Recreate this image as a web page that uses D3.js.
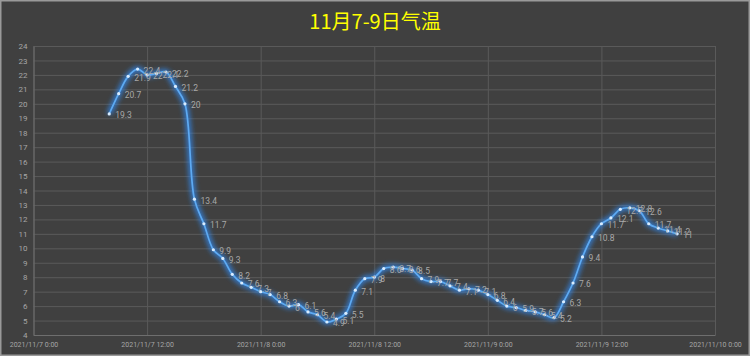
<!DOCTYPE html>
<html>
<head>
<meta charset="utf-8">
<script src="https://cdn.jsdelivr.net/npm/d3@7"></script>
<style>
  html, body { margin: 0; padding: 0; background: #404040; }
  svg { display: block; }
</style>
</head>
<body>
<div id="chart"></div>
<script>
// hourly readings, 11/7 8:00 .. 11/9 20:00
var times = [
    "2021-11-07 08:00", "2021-11-07 09:00", "2021-11-07 10:00", "2021-11-07 11:00",
    "2021-11-07 12:00", "2021-11-07 13:00", "2021-11-07 14:00", "2021-11-07 15:00",
    "2021-11-07 16:00", "2021-11-07 17:00", "2021-11-07 18:00", "2021-11-07 19:00",
    "2021-11-07 20:00", "2021-11-07 21:00", "2021-11-07 22:00", "2021-11-07 23:00",
    "2021-11-08 00:00", "2021-11-08 01:00", "2021-11-08 02:00", "2021-11-08 03:00",
    "2021-11-08 04:00", "2021-11-08 05:00", "2021-11-08 06:00", "2021-11-08 07:00",
    "2021-11-08 08:00", "2021-11-08 09:00", "2021-11-08 10:00", "2021-11-08 11:00",
    "2021-11-08 12:00", "2021-11-08 13:00", "2021-11-08 14:00", "2021-11-08 15:00",
    "2021-11-08 16:00", "2021-11-08 17:00", "2021-11-08 18:00", "2021-11-08 19:00",
    "2021-11-08 20:00", "2021-11-08 21:00", "2021-11-08 22:00", "2021-11-08 23:00",
    "2021-11-09 00:00", "2021-11-09 01:00", "2021-11-09 02:00", "2021-11-09 03:00",
    "2021-11-09 04:00", "2021-11-09 05:00", "2021-11-09 06:00", "2021-11-09 07:00",
    "2021-11-09 08:00", "2021-11-09 09:00", "2021-11-09 10:00", "2021-11-09 11:00",
    "2021-11-09 12:00", "2021-11-09 13:00", "2021-11-09 14:00", "2021-11-09 15:00",
    "2021-11-09 16:00", "2021-11-09 17:00", "2021-11-09 18:00", "2021-11-09 19:00",
    "2021-11-09 20:00"
];

var temps = [
    19.3, 20.7, 21.9, 22.4, 22.0, 22.1, 22.2, 21.2, 20, 13.4, 11.7, 9.9, 9.3, 8.2, 7.6, 7.3,
    7, 6.8, 6.3, 6, 6.1, 5.6, 5.4, 4.9, 5.1, 5.5, 7.1, 7.9, 8, 8.6, 8.7, 8.6, 8.5, 7.9, 7.7, 7.7,
    7.4, 7.1, 7.2, 7.1,
    6.8, 6.4, 6, 5.9, 5.7, 5.6, 5.4, 5.2, 6.3, 7.6, 9.4, 10.8, 11.7, 12.1, 12.7, 12.8, 12.6,
    11.7, 11.4, 11.2, 11
];

var xTicks = [
    "2021-11-07 00:00", "2021-11-07 12:00", "2021-11-08 00:00", "2021-11-08 12:00",
    "2021-11-09 00:00", "2021-11-09 12:00", "2021-11-10 00:00"
];
var yTicks = [4, 5, 6, 7, 8, 9, 10, 11, 12, 13, 14, 15, 16, 17, 18, 19, 20, 21, 22, 23, 24];

var title = "11月7-9日气温";

var W = 750, H = 356;
var margin = { top: 46, right: 35, bottom: 21, left: 33.5 },
    width = W - margin.left - margin.right,
    height = H - margin.top - margin.bottom;

var parse = d3.timeParse("%Y-%m-%d %H:%M");
var data = times.map(function (t, i) { return { t: parse(t), v: temps[i] }; });

var svgRoot = d3.select("#chart")
    .append("svg")
    .attr("width", W)
    .attr("height", H);

svgRoot.append("rect")
    .attr("x", 0.75).attr("y", 0.75)
    .attr("width", W - 1.5).attr("height", H - 1.5)
    .attr("fill", "#404040")
    .attr("stroke", "#9a9a9a")
    .attr("stroke-width", 1.5);

// glow filter for the line
var defs = svgRoot.append("defs");
var glow = defs.append("filter").attr("id", "glow")
    .attr("x", "-5%").attr("y", "-5%").attr("width", "110%").attr("height", "110%");
glow.append("feGaussianBlur").attr("stdDeviation", 2.5);

svgRoot.append("text")
    .attr("x", W / 2)
    .attr("y", 29)
    .attr("text-anchor", "middle")
    .attr("font-family", "'Noto Sans CJK SC', 'Noto Sans', sans-serif")
    .attr("font-size", 20)
    .attr("fill", "#ffff00")
    .text(title);

var svg = svgRoot.append("g")
    .attr("transform", "translate(" + margin.left + "," + margin.top + ")");

var x = d3.scaleTime()
    .domain([parse(xTicks[0]), parse(xTicks[xTicks.length - 1])])
    .range([0, width]);

var y = d3.scaleLinear()
    .domain([4, 24])
    .range([height, 0]);

// gridlines
svg.append("g")
    .attr("class", "ygrid")
    .call(d3.axisLeft(y).tickValues(yTicks).tickSize(-width).tickFormat(""))
    .call(function (g) { g.select(".domain").remove(); })
    .selectAll("line")
    .attr("stroke", "#5a5a5a")
    .attr("stroke-width", 1);

svg.append("g")
    .attr("class", "xgrid")
    .call(d3.axisTop(x).tickValues(xTicks.map(parse)).tickSize(-height).tickFormat(""))
    .call(function (g) { g.select(".domain").remove(); })
    .selectAll("line")
    .attr("stroke", "#5a5a5a")
    .attr("stroke-width", 1);

// Y axis labels
svg.append("g")
    .call(d3.axisLeft(y).tickValues(yTicks).tickSize(0).tickPadding(6))
    .call(function (g) {
        g.select(".domain").attr("stroke", "#6e6e6e");
        g.selectAll("text")
            .attr("fill", "#a6a6a6")
            .attr("font-family", "Roboto, 'Liberation Sans', sans-serif")
            .attr("font-size", 8);
    });

// X axis labels
var fmt = d3.timeFormat("%Y/%-m/%-d %-H:%M");
svg.append("g")
    .attr("transform", "translate(0," + height + ")")
    .call(d3.axisBottom(x).tickValues(xTicks.map(parse)).tickSize(0).tickPadding(7).tickFormat(fmt))
    .call(function (g) {
        g.select(".domain").attr("stroke", "#6e6e6e");
        g.selectAll("text")
            .attr("fill", "#a6a6a6")
            .attr("font-family", "Roboto, 'Liberation Sans', sans-serif")
            .attr("font-size", 7);
    });

var line = d3.line()
    .x(function (d) { return x(d.t); })
    .y(function (d) { return y(d.v); })
    .curve(d3.curveCatmullRom.alpha(0.5));

// glow under the line
svg.append("path")
    .datum(data)
    .attr("fill", "none")
    .attr("stroke", "#2f8af0")
    .attr("stroke-width", 5.5)
    .attr("stroke-opacity", 0.8)
    .attr("filter", "url(#glow)")
    .attr("d", line);

svg.append("path")
    .datum(data)
    .attr("fill", "none")
    .attr("stroke", "#5eaaf2")
    .attr("stroke-width", 1.7)
    .attr("d", line);

// markers
svg.append("g")
    .selectAll("circle")
    .data(data)
    .join("circle")
    .attr("cx", function (d) { return x(d.t); })
    .attr("cy", function (d) { return y(d.v); })
    .attr("r", 1.6)
    .attr("fill", "#d8ecff");

// data labels
svg.append("g")
    .selectAll("text")
    .data(data)
    .join("text")
    .attr("x", function (d) { return x(d.t) + 6; })
    .attr("y", function (d) { return y(d.v) + 4.5; })
    .attr("fill", "#a8a8a8")
    .attr("font-family", "Roboto, 'Liberation Sans', sans-serif")
    .attr("font-size", 8.5)
    .text(function (d) { return d.v; });
</script>
</body>
</html>
